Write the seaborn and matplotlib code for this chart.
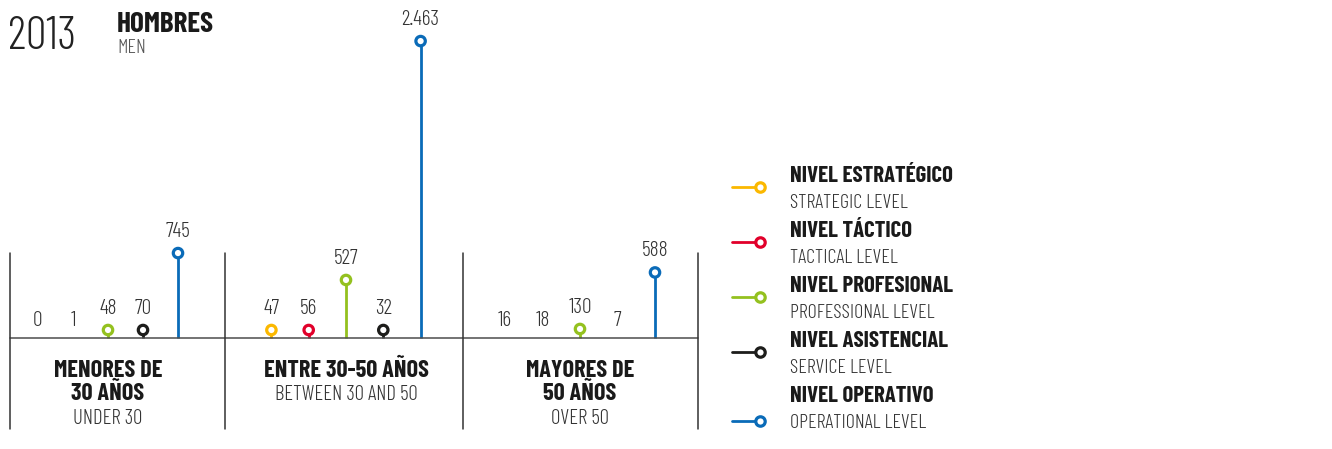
import matplotlib
matplotlib.use("Agg")
import matplotlib.pyplot as plt
import pandas as pd
import seaborn as sns

# data
groups_es = ["MENORES DE\n30 AÑOS", "ENTRE 30-50 AÑOS", "MAYORES DE\n50 AÑOS"]
groups_en = ["UNDER 30", "BETWEEN 30 AND 50", "OVER 50"]
levels_es = ["NIVEL ESTRATÉGICO", "NIVEL TÁCTICO", "NIVEL PROFESIONAL", "NIVEL ASISTENCIAL", "NIVEL OPERATIVO"]
levels_en = ["STRATEGIC LEVEL", "TACTICAL LEVEL", "PROFESSIONAL LEVEL", "SERVICE LEVEL", "OPERATIONAL LEVEL"]
under_30 = [0, 1, 48, 70, 745]
between_30_50 = [47, 56, 527, 32, 2463]
over_50 = [16, 18, 130, 7, 588]
level_colors = ["#FBB800", "#E1002A", "#94C11F", "#1D1D1B", "#0A6BB8"]

sns.set_style("white")
FONT = ["Barlow Condensed", "DejaVu Sans"]
plt.rcParams["font.family"] = FONT

W, H = 1332, 449
fig = plt.figure(figsize=(W / 100, H / 100), dpi=100)

# value axes: zero sits a little below the drawn baseline, like the original
ZERO_PX, SCALE = 345, 0.1234
BASE_PX = 337.5
base_v = (ZERO_PX - BASE_PX) / SCALE
floor_v = (ZERO_PX - 330) / SCALE  # small values keep their circle just above the line
MIN_MARK = 30

group_edges = [10, 225, 463, 698]
group_mid = [108, 346, 580]
group_step = [35, 37.3, 37.5]

rows = []
for g, vals in enumerate([under_30, between_30_50, over_50]):
    for i, v in enumerate(vals):
        rows.append({"x": group_mid[g] + (i - 2) * group_step[g], "value": v,
                     "level": levels_es[i], "marked": v >= MIN_MARK})
df = pd.DataFrame(rows)
df["y"] = df["value"].clip(lower=floor_v)

ax = fig.add_axes([0, 0, 1, 1])
pal = dict(zip(levels_es, level_colors))
marked = df[df["marked"]]
ax.vlines(marked["x"], base_v, marked["y"], colors=[pal[l] for l in marked["level"]], lw=2.0, zorder=2)
sns.scatterplot(data=marked, x="x", y="y", hue="level", palette=pal, s=46, legend=False, ax=ax, zorder=3)
pts = ax.collections[-1]
pts.set_edgecolors(pts.get_facecolors())
pts.set_facecolors("white")
pts.set_linewidths(2.3)

for _, r in df.iterrows():
    lab = f"{r['value']:,}".replace(",", ".")
    if r["marked"]:
        ax.annotate(lab, (r["x"], r["y"]), xytext=(0, 16), textcoords="offset pixels",
                    ha="center", va="baseline", fontsize=15.5, fontweight=300, color="#333333")
    else:
        ax.annotate(lab, (r["x"], base_v), xytext=(0, 12), textcoords="offset pixels",
                    ha="center", va="baseline", fontsize=15.5, fontweight=300, color="#333333")

ax.set_xlim(0, W)
ax.set_ylim((ZERO_PX - H) / SCALE, ZERO_PX / SCALE)
ax.axis("off")

# overlay in pixel units for frame, titles and legend
ov = fig.add_axes([0, 0, 1, 1])
ov.set_xlim(0, W)
ov.set_ylim(H, 0)
ov.axis("off")
ov.patch.set_alpha(0)

ov.plot([group_edges[0], group_edges[-1]], [BASE_PX, BASE_PX], color="#4d4d4d", lw=1.1)
for x in group_edges:
    ov.plot([x, x], [253, 429], color="#333333", lw=1.1)

for g in range(3):
    lines = groups_es[g].split("\n")
    for j, t in enumerate(lines):
        ov.text(group_mid[g], 377 + 23.5 * j, t, ha="center", va="baseline",
                fontsize=17.5, fontweight=700, color="#1a1a1a")
    ov.text(group_mid[g], 377 + 23.5 * len(lines), groups_en[g], ha="center", va="baseline",
            fontsize=15, fontweight=300, color="#333333")

ov.text(8, 49, "2013", ha="left", va="baseline", fontsize=33, fontweight=300, color="#222222")
ov.text(117, 32, "HOMBRES", ha="left", va="baseline", fontsize=21, fontweight=700, color="#1a1a1a")
ov.text(117, 53, "MEN", ha="left", va="baseline", fontsize=14.5, fontweight=300, color="#555555")

for i in range(5):
    yb = 182 + 55 * i
    ym = yb + 5 if i < 4 else yb + 19
    ov.plot([732, 756], [ym, ym], color=level_colors[i], lw=2.0)
    ov.scatter([760], [ym], s=46, facecolors="white", edgecolors=level_colors[i], linewidths=2.3, zorder=3)
    ov.text(790, yb, levels_es[i], ha="left", va="baseline", fontsize=16.5, fontweight=700, color="#1a1a1a")
    ov.text(790, yb + 26, levels_en[i], ha="left", va="baseline", fontsize=14.5, fontweight=300, color="#333333")

fig.savefig("out.png", dpi=100)
